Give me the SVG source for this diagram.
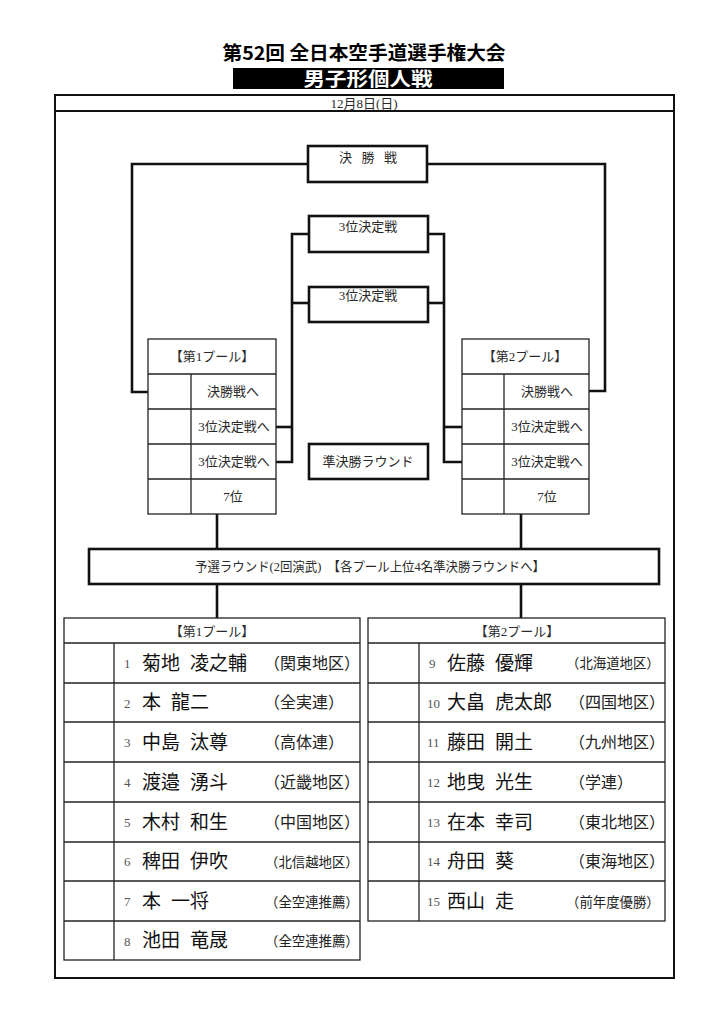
<svg xmlns="http://www.w3.org/2000/svg" width="724" height="1024" viewBox="0 0 724 1024">
<style>
.bg{fill:#fff}
.thick{fill:#fff;stroke:#111;stroke-width:2.6}
.frame{fill:none;stroke:#111;stroke-width:2}
.thin{fill:#fff;stroke:#222;stroke-width:1.3}
.ln{fill:none;stroke:#111;stroke-width:2.6}
.tl{fill:none;stroke:#222;stroke-width:1.3}
.mincho{font-family:"Liberation Serif","Noto Sans CJK JP",serif;font-size:13px;fill:#2a2a2a;text-anchor:middle}
.num{font-family:"Liberation Serif",serif;font-size:13px;fill:#555}
.name{font-family:"Noto Sans CJK JP","Noto Sans CJK SC",sans-serif;font-size:19px;fill:#111}
.aff{font-family:"Noto Sans CJK JP","Noto Sans CJK SC",sans-serif;font-size:16px;fill:#222}
.affs{font-family:"Noto Sans CJK JP","Noto Sans CJK SC",sans-serif;font-size:13.4px;fill:#222}
</style>
<rect class="bg" x="0" y="0" width="724" height="1024"/>

<g id="title">
<text x="364" y="60" font-family="Noto Sans CJK JP, sans-serif" font-size="19" font-weight="bold" text-anchor="middle" fill="#000" textLength="283" lengthAdjust="spacingAndGlyphs">第52回 全日本空手道選手権大会</text>
<rect x="233" y="68" width="271" height="21" fill="#000"/>
<text x="368" y="86" font-family="Noto Sans CJK JP, sans-serif" font-size="19" font-weight="bold" text-anchor="middle" fill="#fff" textLength="129" lengthAdjust="spacingAndGlyphs">男子形個人戦</text>
</g>

<g id="frame">
<rect class="frame" x="55" y="95" width="619" height="883"/>
<line class="frame" x1="55" y1="111" x2="674" y2="111" stroke-width="1.6"/>
<text class="mincho" x="364" y="108" font-size="12.5">12月8日(日)</text>
</g>

<g id="connectors">
<polyline class="ln" points="148,392 132,392 132,164 308,164"/>
<polyline class="ln" points="427,164 605,164 605,391 589,391"/>
<polyline class="ln" points="309,234 292,234 292,462 276,462"/>
<line class="ln" x1="292" y1="303" x2="309" y2="303"/>
<line class="ln" x1="276" y1="427" x2="292" y2="427"/>
<polyline class="ln" points="428,234 444,234 444,462 462,462"/>
<line class="ln" x1="428" y1="303" x2="444" y2="303"/>
<line class="ln" x1="444" y1="427" x2="462" y2="427"/>
<line class="ln" x1="217" y1="514" x2="217" y2="549"/>
<line class="ln" x1="217" y1="584" x2="217" y2="618"/>
<line class="ln" x1="521" y1="514" x2="521" y2="549"/>
<line class="ln" x1="521" y1="584" x2="521" y2="618"/>
</g>

<g id="final">
<rect class="thick" x="308" y="146" width="119" height="36"/>
<text class="mincho" x="368" y="162" textLength="58" lengthAdjust="spacing">決 勝 戦</text>
</g>
<g id="third1">
<rect class="thick" x="309" y="216" width="119" height="36"/>
<text class="mincho" x="368" y="231">3位決定戦</text>
</g>
<g id="third2">
<rect class="thick" x="309" y="287" width="119" height="35"/>
<text class="mincho" x="368" y="300">3位決定戦</text>
</g>
<g id="semifinal">
<rect class="thick" x="309" y="444" width="119" height="35"/>
<text class="mincho" x="368" y="466">準決勝ラウンド</text>
</g>

<g id="pool1-upper">
<rect class="thin" x="148" y="339" width="128" height="175"/>
<line class="tl" x1="148" y1="374" x2="276" y2="374"/>
<line class="tl" x1="148" y1="409" x2="276" y2="409"/>
<line class="tl" x1="148" y1="444" x2="276" y2="444"/>
<line class="tl" x1="148" y1="479" x2="276" y2="479"/>
<line class="tl" x1="191" y1="374" x2="191" y2="514"/>
<text class="mincho" x="212" y="361">【第1プール】</text>
<text class="mincho" x="233" y="396">決勝戦へ</text>
<text class="mincho" x="234" y="431">3位決定戦へ</text>
<text class="mincho" x="234" y="466">3位決定戦へ</text>
<text class="mincho" x="233" y="501">7位</text>
</g>

<g id="pool2-upper">
<rect class="thin" x="462" y="339" width="127" height="175"/>
<line class="tl" x1="462" y1="374" x2="589" y2="374"/>
<line class="tl" x1="462" y1="409" x2="589" y2="409"/>
<line class="tl" x1="462" y1="444" x2="589" y2="444"/>
<line class="tl" x1="462" y1="479" x2="589" y2="479"/>
<line class="tl" x1="504" y1="374" x2="504" y2="514"/>
<text class="mincho" x="525" y="361">【第2プール】</text>
<text class="mincho" x="547" y="396">決勝戦へ</text>
<text class="mincho" x="547" y="431">3位決定戦へ</text>
<text class="mincho" x="547" y="466">3位決定戦へ</text>
<text class="mincho" x="547" y="501">7位</text>
</g>

<g id="preliminary">
<rect class="thick" x="89" y="549" width="570" height="35" stroke-width="3"/>
<text class="mincho" x="370" y="571" textLength="350" lengthAdjust="spacingAndGlyphs" xml:space="preserve">予選ラウンド(2回演武)  【各プール上位4名準決勝ラウンドへ】</text>
</g>

<g id="pool1-list">
<rect class="thin" x="64" y="618" width="296" height="342" stroke-width="1.6"/>
<line class="tl" x1="64" y1="643" x2="360" y2="643"/>
<line class="tl" x1="64" y1="683" x2="360" y2="683"/>
<line class="tl" x1="64" y1="722" x2="360" y2="722"/>
<line class="tl" x1="64" y1="762" x2="360" y2="762"/>
<line class="tl" x1="64" y1="802" x2="360" y2="802"/>
<line class="tl" x1="64" y1="842" x2="360" y2="842"/>
<line class="tl" x1="64" y1="881" x2="360" y2="881"/>
<line class="tl" x1="64" y1="921" x2="360" y2="921"/>
<line class="tl" x1="114" y1="643" x2="114" y2="960"/>
<text class="mincho" x="212" y="636">【第1プール】</text>
<text class="num" x="124" y="668">1</text><text class="name" x="142" y="670">菊地 <tspan x="190">凌之輔</tspan></text><text class="aff" x="264" y="669">（関東地区）</text>
<text class="num" x="124" y="708">2</text><text class="name" x="142" y="709">本 <tspan x="171">龍二</tspan></text><text class="aff" x="264" y="708">（全実連）</text>
<text class="num" x="124" y="747">3</text><text class="name" x="142" y="749">中島 <tspan x="190">汰尊</tspan></text><text class="aff" x="264" y="748">（高体連）</text>
<text class="num" x="124" y="787">4</text><text class="name" x="142" y="789">渡邉 <tspan x="190">湧斗</tspan></text><text class="aff" x="264" y="788">（近畿地区）</text>
<text class="num" x="124" y="827">5</text><text class="name" x="142" y="829">木村 <tspan x="190">和生</tspan></text><text class="aff" x="264" y="828">（中国地区）</text>
<text class="num" x="124" y="866">6</text><text class="name" x="142" y="868">稗田 <tspan x="190">伊吹</tspan></text><text class="affs" x="265" y="867">（北信越地区）</text>
<text class="num" x="124" y="906">7</text><text class="name" x="142" y="908">本 <tspan x="171">一将</tspan></text><text class="affs" x="265" y="907">（全空連推薦）</text>
<text class="num" x="124" y="946">8</text><text class="name" x="142" y="947">池田 <tspan x="190">竜晟</tspan></text><text class="affs" x="265" y="946">（全空連推薦）</text>
</g>

<g id="pool2-list">
<rect class="thin" x="368" y="618" width="297" height="303" stroke-width="1.6"/>
<line class="tl" x1="368" y1="643" x2="665" y2="643"/>
<line class="tl" x1="368" y1="683" x2="665" y2="683"/>
<line class="tl" x1="368" y1="722" x2="665" y2="722"/>
<line class="tl" x1="368" y1="762" x2="665" y2="762"/>
<line class="tl" x1="368" y1="802" x2="665" y2="802"/>
<line class="tl" x1="368" y1="842" x2="665" y2="842"/>
<line class="tl" x1="368" y1="881" x2="665" y2="881"/>
<line class="tl" x1="419" y1="643" x2="419" y2="921"/>
<text class="mincho" x="517" y="636">【第2プール】</text>
<text class="num" x="429" y="668">9</text><text class="name" x="447" y="670">佐藤 <tspan x="495">優輝</tspan></text><text class="affs" x="566" y="668">（北海道地区）</text>
<text class="num" x="427" y="708">10</text><text class="name" x="447" y="709">大畠 <tspan x="495">虎太郎</tspan></text><text class="aff" x="569" y="708">（四国地区）</text>
<text class="num" x="427" y="747">11</text><text class="name" x="447" y="749">藤田 <tspan x="495">開土</tspan></text><text class="aff" x="569" y="748">（九州地区）</text>
<text class="num" x="427" y="787">12</text><text class="name" x="447" y="789">地曳 <tspan x="495">光生</tspan></text><text class="aff" x="569" y="788">（学連）</text>
<text class="num" x="427" y="827">13</text><text class="name" x="447" y="829">在本 <tspan x="495">幸司</tspan></text><text class="aff" x="569" y="828">（東北地区）</text>
<text class="num" x="427" y="866">14</text><text class="name" x="447" y="868">舟田 <tspan x="495">葵</tspan></text><text class="aff" x="569" y="867">（東海地区）</text>
<text class="num" x="427" y="906">15</text><text class="name" x="447" y="908">西山 <tspan x="495">走</tspan></text><text class="affs" x="566" y="907">（前年度優勝）</text>
</g>
</svg>
